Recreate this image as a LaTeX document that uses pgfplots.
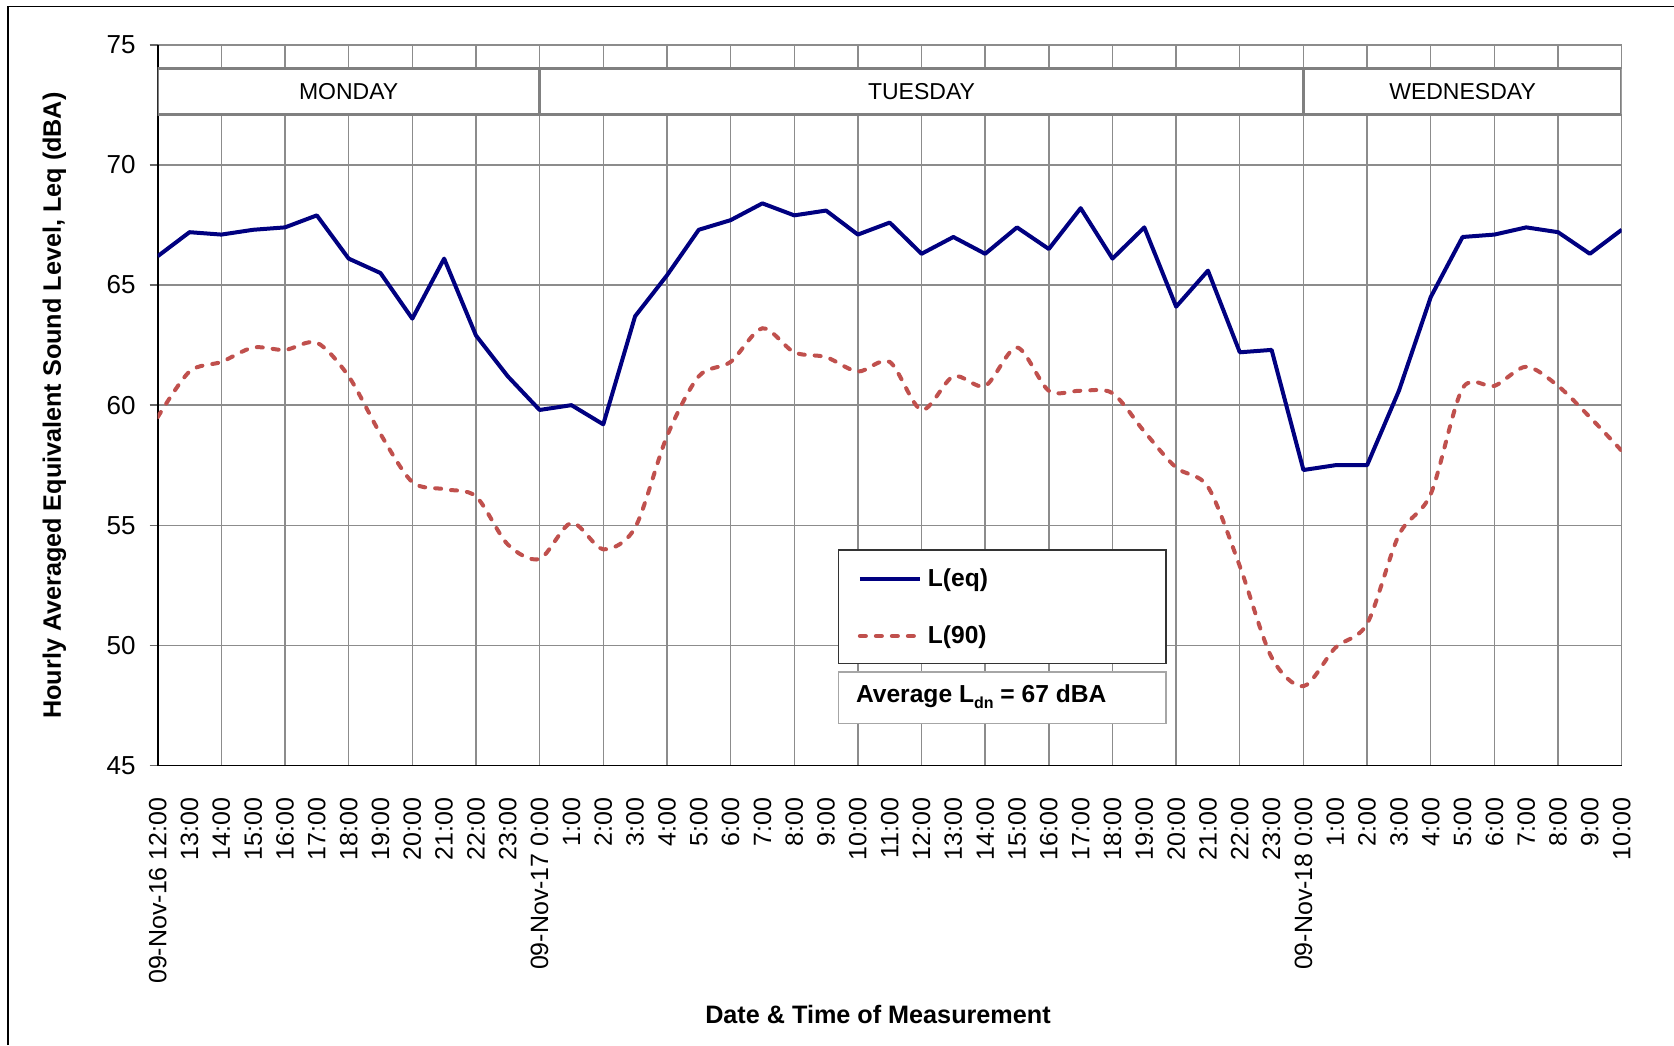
\documentclass[border=0pt]{standalone}
\usepackage{fontspec}
\setmainfont{Liberation Sans}
\usepackage{pgfplots}
\pgfplotsset{compat=1.18}
\definecolor{leqblue}{RGB}{0,0,128}
\definecolor{lninety}{RGB}{192,80,77}
\begin{document}
\begin{tikzpicture}
\useasboundingbox (0,0) rectangle (837pt,522.5pt);
\fill[white] (0,0) rectangle (837pt,522.5pt);
\draw[black, line width=0.8pt] (3.85pt,0) -- (3.85pt,519.25pt) -- (837pt,519.25pt);
\begin{axis}[
  at={(78.85pt,139.75pt)}, anchor=south west,
  scale only axis, width=732pt, height=360.35pt,
  xmin=0, xmax=46, ymin=45, ymax=75,
  axis x line*=bottom, axis y line*=left,
  axis line style={black, line width=0.9pt, -},
  tick align=outside, major tick length=4pt,
  ytick={45,50,...,75},
  ytick style={black!60, line width=0.7pt},
  xtick={0,...,46},
  xtick style={draw=none},
  minor xtick={0,2,...,46},
  xminorgrids=true, xmajorgrids=false, ymajorgrids=true,
  major grid style={black!45, line width=0.7pt},
  minor grid style={black!45, line width=0.7pt},
  xticklabels={{09-Nov-16 12:00},13:00,14:00,15:00,16:00,17:00,18:00,19:00,20:00,21:00,22:00,23:00,
    {09-Nov-17 0:00},1:00,2:00,3:00,4:00,5:00,6:00,7:00,8:00,9:00,10:00,11:00,12:00,13:00,14:00,15:00,16:00,17:00,18:00,19:00,20:00,21:00,22:00,23:00,
    {09-Nov-18 0:00},1:00,2:00,3:00,4:00,5:00,6:00,7:00,8:00,9:00,10:00},
  xticklabel style={rotate=90, anchor=east, font=\fontsize{12.5}{12.5}\selectfont},
  yticklabel style={font=\fontsize{13}{13}\selectfont},
  /pgf/number format/assume math mode=true,
  xticklabel shift=8.5pt, yticklabel shift=3.5pt,
  xlabel={Date \& Time of Measurement},
  xlabel style={at={(axis description cs:0.492,-0.345)}, anchor=center, font=\bfseries\fontsize{12.6}{12.6}\selectfont},
  ylabel={Hourly Averaged Equivalent Sound Level, Leq (dBA)},
  ylabel style={at={(axis description cs:-0.0705,0.4994)}, anchor=center, font=\bfseries\fontsize{12.6}{12.6}\selectfont},
  legend style={at={(axis cs:22.0,53.19)}, anchor=north west, draw=none, fill=none,
    inner sep=0pt, outer sep=0pt, font=\bfseries\fontsize{12.3}{12.3}\selectfont,
    row sep=18pt, column sep=3pt, nodes={inner sep=0pt}},
  legend cell align=left,
  legend image code/.code={\draw[#1] (0pt,0pt) -- (30pt,0pt);},
]
\addplot[leqblue, line width=2pt, line join=round] coordinates {
(0,66.2) (1,67.2) (2,67.1) (3,67.3) (4,67.4) (5,67.9) (6,66.1) (7,65.5) (8,63.6) (9,66.1)
(10,62.9) (11,61.2) (12,59.8) (13,60.0) (14,59.2) (15,63.7) (16,65.4) (17,67.3) (18,67.7) (19,68.4)
(20,67.9) (21,68.1) (22,67.1) (23,67.6) (24,66.3) (25,67.0) (26,66.3) (27,67.4) (28,66.5) (29,68.2)
(30,66.1) (31,67.4) (32,64.1) (33,65.6) (34,62.2) (35,62.3) (36,57.3) (37,57.5) (38,57.5) (39,60.6)
(40,64.5) (41,67.0) (42,67.1) (43,67.4) (44,67.2) (45,66.3) (46,67.3)};
\addplot[lninety, line width=2pt, smooth, line cap=round, dash pattern=on 3pt off 5pt] coordinates {
(0,59.5) (1,61.4) (2,61.8) (3,62.4) (4,62.3) (5,62.6) (6,61.2) (7,58.8) (8,56.8) (9,56.5)
(10,56.2) (11,54.2) (12,53.6) (13,55.1) (14,54.0) (15,54.9) (16,58.7) (17,61.2) (18,61.8) (19,63.2)
(20,62.2) (21,62.0) (22,61.4) (23,61.8) (24,59.8) (25,61.2) (26,60.8) (27,62.4) (28,60.6) (29,60.6)
(30,60.5) (31,58.9) (32,57.4) (33,56.6) (34,53.3) (35,49.5) (36,48.3) (37,49.9) (38,50.9) (39,54.6)
(40,56.3) (41,60.7) (42,60.8) (43,61.6) (44,60.8) (45,59.5) (46,58.1)};
\legend{L(eq), L(90)}
% day boxes
\draw[black!50, line width=1.5pt, fill=white] (axis cs:0,72.1) rectangle (axis cs:12,74.0)
  node[midway, black, font=\fontsize{11.5}{11.5}\selectfont] {MONDAY};
\draw[black!50, line width=1.5pt, fill=white] (axis cs:12,72.1) rectangle (axis cs:36,74.0)
  node[midway, black, font=\fontsize{11.5}{11.5}\selectfont] {TUESDAY};
\draw[black!50, line width=1.5pt, fill=white] (axis cs:36,72.1) rectangle (axis cs:46,74.0)
  node[midway, black, font=\fontsize{11.5}{11.5}\selectfont] {WEDNESDAY};
% legend frame and note box
\draw[black!80, line width=0.6pt, fill=white] (axis cs:21.39,49.25) rectangle (axis cs:31.68,53.97);
\draw[black!35, line width=0.8pt, fill=white] (axis cs:21.39,46.75) rectangle (axis cs:31.68,48.90);
\node[anchor=base west, font=\bfseries\fontsize{12.3}{12.3}\selectfont] at (axis cs:21.72,47.61)
  {Average L\raisebox{-0.45ex}{\fontsize{8}{8}\selectfont dn} = 67 dBA};
\end{axis}
\end{tikzpicture}
\end{document}
